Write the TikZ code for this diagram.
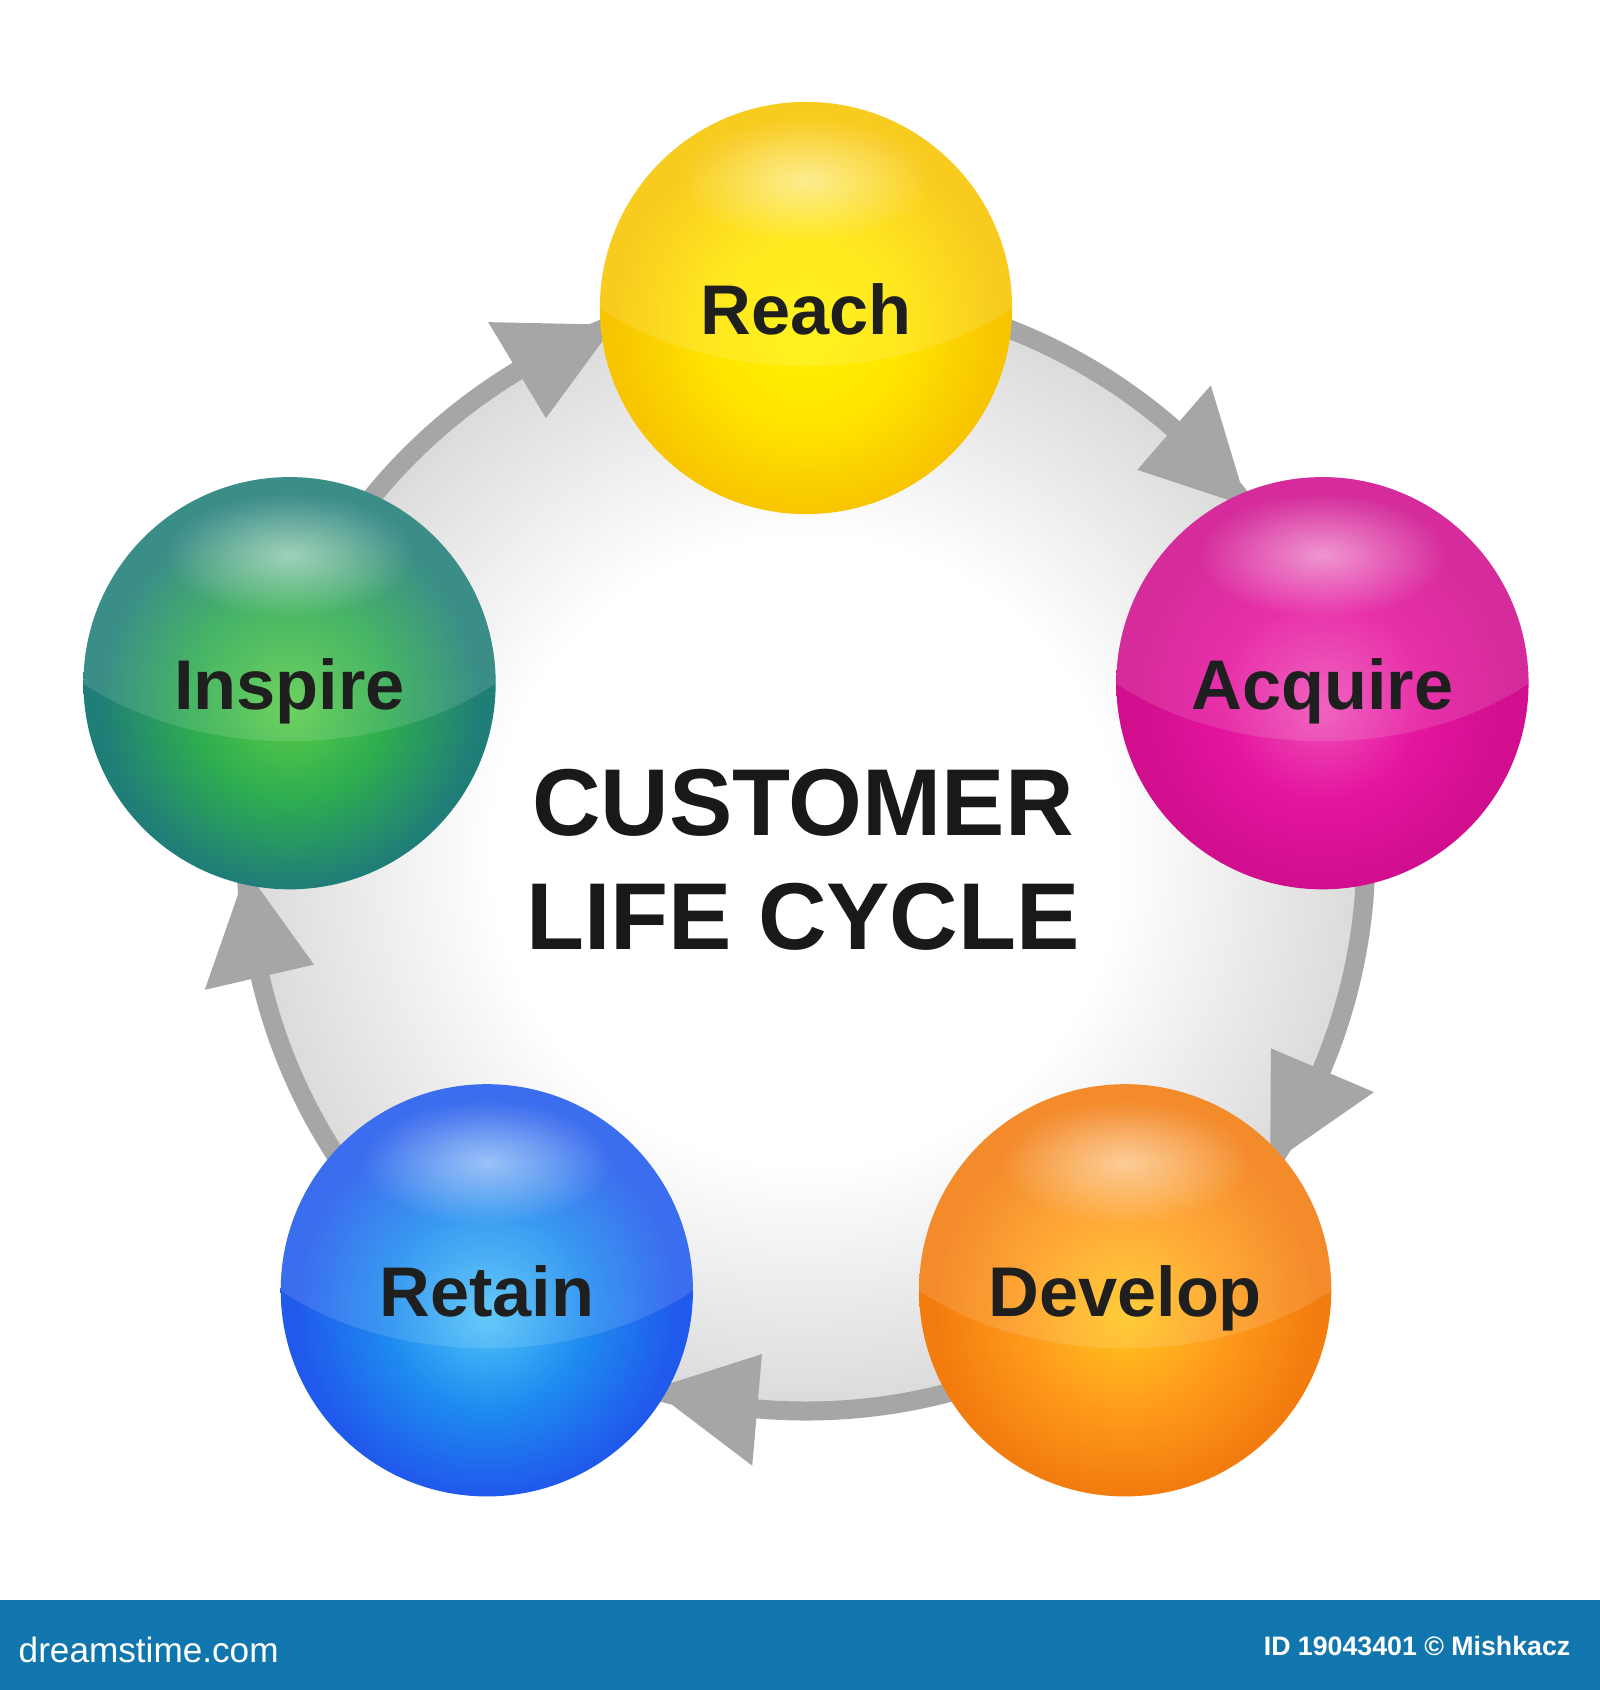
\documentclass[tikz,border=0pt]{standalone}
\usepackage{fontspec}
\setmainfont{Liberation Sans}
\usetikzlibrary{calc,fadings}

\definecolor{ringgray}{RGB}{166,166,166}
\definecolor{ringfill}{RGB}{218,218,218}
\definecolor{barblue}{RGB}{16,118,173}
\definecolor{yA}{RGB}{255,242,0}\definecolor{yB}{RGB}{255,228,0}\definecolor{yC}{RGB}{248,198,0}
\definecolor{mA}{RGB}{238,80,184}\definecolor{mB}{RGB}{229,20,158}\definecolor{mC}{RGB}{208,14,142}
\definecolor{oA}{RGB}{255,198,30}\definecolor{oB}{RGB}{255,156,28}\definecolor{oC}{RGB}{243,124,14}
\definecolor{bA}{RGB}{80,196,248}\definecolor{bB}{RGB}{30,140,240}\definecolor{bC}{RGB}{32,90,236}
\definecolor{gA}{RGB}{90,204,72}\definecolor{gB}{RGB}{46,172,80}\definecolor{gC}{RGB}{32,126,120}
\colorlet{sa}{white}\colorlet{sb}{white}\colorlet{sc}{white}
\pgfdeclareradialshading[sa,sb,sc]{sphereshade}{\pgfpoint{0bp}{-3bp}}{color(0bp)=(sa); color(12bp)=(sb); color(23bp)=(sc); color(25bp)=(sc); color(50bp)=(sc)}
\pgfdeclareradialshading{ringshade}{\pgfpoint{0bp}{0bp}}{color(0bp)=(white); color(14bp)=(white); color(25bp)=(ringfill); color(50bp)=(ringfill)}
\pgfdeclareradialshading{glowsh}{\pgfpointorigin}{color(0bp)=(pgftransparent!50); color(24bp)=(pgftransparent!100); color(50bp)=(pgftransparent!100)}
\pgfdeclarefading{glowfade}{\pgfuseshading{glowsh}}

\begin{document}
\begin{tikzpicture}[x=0.01cm, y=-0.01cm,
  ball/.style={circle, minimum size=4.12cm, inner sep=0pt, shading=sphereshade,
    text=black!88, font=\fontsize{20}{24}\selectfont\bfseries,
    text height=0.52cm, text depth=0pt,
    path picture={
      \fill[white, opacity=0.12] ([yshift=1.48cm]path picture bounding box.center)
        ellipse[x radius=2.97cm, y radius=2.06cm];
      \fill[white, path fading=glowfade] ([yshift=1.28cm]path picture bounding box.center)
        ellipse[x radius=1.3cm, y radius=0.65cm];
    }},
  setball/.code n args={3}{\colorlet{sa}{#1}\colorlet{sb}{#2}\colorlet{sc}{#3}},
  arrowtri/.style={fill=ringgray},
  titletext/.style={font=\fontsize{27}{32}\selectfont\bfseries, text=black!90,
    anchor=base, inner sep=0pt},
]
\useasboundingbox (0,0) rectangle (1600,1690);
\fill[white] (0,0) rectangle (1600,1690);

% ring
\coordinate (C) at (806,851);
\fill[shading=ringshade] (C) circle (560);
\draw[ringgray, line width=0.19cm] (C) circle (560);

% arrow heads on the ring
\foreach \a in {-90,-18,54,126,198}{
  \fill[arrowtri] ($(C)+(\a-31:505)$) -- ($(C)+(\a-31:617)$) -- ($(C)+(\a-20:560)$) -- cycle;
}

% spheres
\node[ball, setball={yA}{yB}{yC}] (reach) at ($(C)+(-90:543)$) {Reach};
\node[ball, setball={mA}{mB}{mC}] (acquire) at ($(C)+(-18:543)$) {Acquire};
\node[ball, setball={oA}{oB}{oC}] (develop) at ($(C)+(54:543)$) {Develop};
\node[ball, setball={bA}{bB}{bC}] (retain) at ($(C)+(126:543)$) {Retain};
\node[ball, setball={gA}{gB}{gC}] (inspire) at ($(C)+(198:543)$) {Inspire};

% title
\node[titletext] (t1) at (803,835) {CUSTOMER};
\node[titletext] (t2) at (803,949) {LIFE CYCLE};

% bottom bar
\fill[barblue] (0,1600) rectangle (1600,1690);
\node[anchor=base west, inner sep=0pt, text=white, font=\fontsize{10}{12}\selectfont]
  (logo) at (18,1662) {dreamstime.com};
\node[anchor=base east, inner sep=0pt, text=white, font=\fontsize{7.6}{9}\selectfont\bfseries]
  (credit) at (1571,1655) {ID 19043401 © Mishkacz};
\end{tikzpicture}
\end{document}
